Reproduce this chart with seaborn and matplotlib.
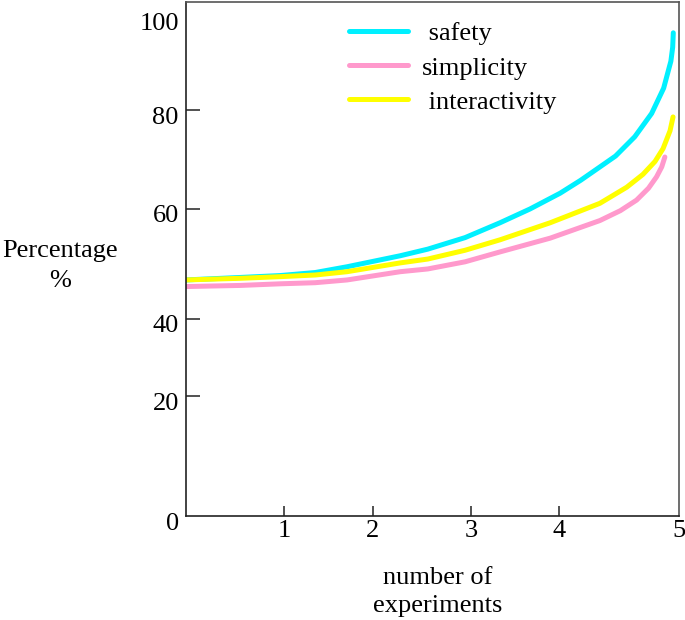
import numpy as np
import pandas as pd
import matplotlib
matplotlib.use("Agg")
import matplotlib.pyplot as plt
import matplotlib.transforms as mtransforms
import seaborn as sns

# ---- data ----
series_names = ["safety", "simplicity", "interactivity"]
safety_x = [0.0, 0.55, 0.96, 1.35, 1.71, 2.28, 2.56, 2.94, 3.33, 3.67, 4.01, 4.18,
            4.34, 4.47, 4.63, 4.77, 4.87, 4.93, 4.945, 4.95]
safety_y = [47.1, 47.55, 47.9, 48.45, 49.5, 51.5, 52.7, 54.8, 57.5, 60.0, 63.2, 65.8,
            68.5, 70.7, 74.6, 79.3, 84.7, 90.5, 93.5, 96.6]
simplicity_x = [0.0, 0.55, 0.96, 1.35, 1.71, 2.28, 2.56, 2.94, 3.33, 3.90, 4.34, 4.51,
                4.645, 4.744, 4.811, 4.854, 4.88]
simplicity_y = [45.9, 46.1, 46.4, 46.6, 47.1, 48.6, 49.1, 50.4, 52.2, 54.7, 57.9, 59.7,
                61.8, 64.2, 66.5, 68.5, 70.5]
interactivity_x = [0.0, 0.55, 0.96, 1.35, 1.71, 2.28, 2.56, 2.94, 3.33, 3.90, 4.34,
                   4.563, 4.698, 4.798, 4.865, 4.923, 4.948]
interactivity_y = [47.1, 47.4, 47.7, 48.0, 48.6, 50.2, 50.9, 52.5, 54.4, 57.5, 61.15,
                   64.4, 67.0, 69.6, 72.2, 75.8, 78.6]
x_ticks = [1, 2, 3, 4, 5]
y_ticks = [0, 20, 40, 60, 80, 100]
colors = ["#00F0FF", "#FF99CC", "#FFFF00"]

# tick positions of the (non-uniform) hand-drawn axes, in pixels of the reference
x_knots = [0, 1, 2, 3, 4, 5]
x_pix = [185.7, 284.3, 372.7, 471.0, 559.0, 679.3]
y_knots = [0, 20, 40, 60, 80, 100, 103.2]
y_pix = [516, 396, 319, 209, 110, 17, 2]

df = pd.concat([
    pd.DataFrame({"x": safety_x, "y": safety_y, "series": "safety"}),
    pd.DataFrame({"x": simplicity_x, "y": simplicity_y, "series": "simplicity"}),
    pd.DataFrame({"x": interactivity_x, "y": interactivity_y, "series": "interactivity"}),
], ignore_index=True)

sns.set_theme(style="white")
plt.rcParams["font.family"] = ["Liberation Serif", "DejaVu Serif"]
plt.rcParams["text.color"] = "black"
FS = 19

W, H = 685, 620
fig = plt.figure(figsize=(W / 100, H / 100), dpi=100)
left, right = 185.7 / W, 679.3 / W
bottom, top = 1 - 516 / H, 1 - 2 / H
ax = fig.add_axes([left, bottom, right - left, top - bottom])

xk = np.array(x_knots, float); xp = np.array(x_pix, float) - x_pix[0]
yk = np.array(y_knots, float); yp = y_pix[0] - np.array(y_pix, float)

def fx(v): return np.interp(v, xk, xp)
def fx_inv(p): return np.interp(p, xp, xk)
def fy(v): return np.interp(v, yk, yp)
def fy_inv(p): return np.interp(p, yp, yk)

ax.set_xscale("function", functions=(fx, fx_inv))
ax.set_yscale("function", functions=(fy, fy_inv))

sns.lineplot(data=df, x="x", y="y", hue="series", hue_order=series_names,
             palette=colors, sort=False, estimator=None, linewidth=3.6,
             legend=False, ax=ax)
for ln in ax.lines:
    ln.set_solid_capstyle("round")
    ln.set_solid_joinstyle("round")

ax.set_xlim(0, 5)
ax.set_ylim(0, 103.2)
ax.set_xticks(x_ticks)
ax.set_xticklabels([str(t) for t in x_ticks])
ax.set_yticks(y_ticks)
ax.set_yticklabels([str(t) for t in y_ticks])
ax.minorticks_off()
ax.tick_params(axis="both", which="major", direction="in", labelsize=FS,
               colors="#222222", labelcolor="black", width=1.1,
               left=True, bottom=True)
ax.tick_params(axis="y", length=10, pad=5)
ax.tick_params(axis="x", length=7, pad=3)
yt = ax.yaxis.get_major_ticks()
yt[0].tick1line.set_visible(False)
yt[-1].tick1line.set_visible(False)
xt = ax.xaxis.get_major_ticks()
xt[-1].tick1line.set_visible(False)
# labels sit slightly below their ticks in the reference
offset = mtransforms.ScaledTranslation(0, -5 / 100, fig.dpi_scale_trans)
for lab in ax.get_yticklabels():
    lab.set_transform(lab.get_transform() + offset)

for side in ["left", "bottom"]:
    ax.spines[side].set_color("#222222")
    ax.spines[side].set_linewidth(1.2)
for side in ["top", "right"]:
    ax.spines[side].set_color("#555555")
    ax.spines[side].set_linewidth(1.2)
    ax.spines[side].set_visible(True)
ax.set_xlabel("")
ax.set_ylabel("")
ax.grid(False)

leg = ax.legend(handles=ax.lines[:3], labels=[" safety", "simplicity", " interactivity"],
                loc="upper left", bbox_to_anchor=(349 / W, 1 - 22 / H),
                bbox_transform=fig.transFigure, frameon=False, fontsize=FS,
                handlelength=2.25, handletextpad=0.5, labelspacing=0.4,
                borderpad=0, borderaxespad=0)
for h in leg.get_lines():
    h.set_linewidth(3.6)
    h.set_solid_capstyle("round")
for t in leg.get_texts():
    t.set_color("black")

fig.text(60 / W, 1 - 266 / H, "Percentage\n%", ha="center", va="center",
         fontsize=FS, linespacing=1.5, color="black")
fig.text(438 / W, 1 - 592 / H, "number of\nexperiments", ha="center", va="center",
         fontsize=FS, linespacing=1.3, color="black")

fig.savefig("out.png", dpi=100)
